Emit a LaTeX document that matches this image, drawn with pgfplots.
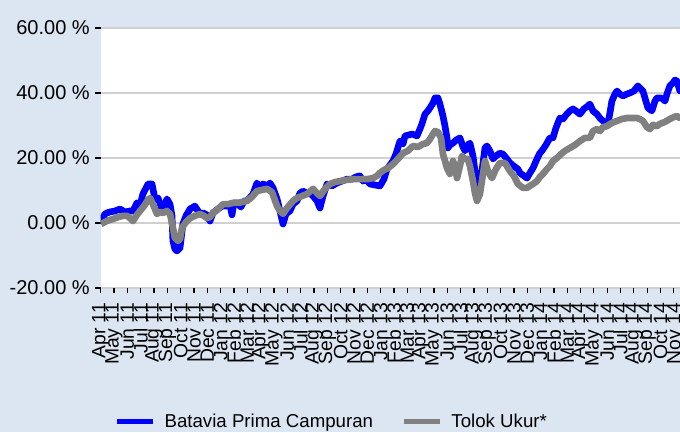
\documentclass[border=0pt]{standalone}
\usepackage{pgfplots}
\pgfplotsset{compat=1.18}
\usepackage{fontspec}
\setmainfont{Liberation Sans}
\definecolor{bgblue}{RGB}{220,230,242}
\definecolor{gridgray}{RGB}{208,208,208}
\definecolor{lineblue}{RGB}{0,0,255}
\definecolor{linegray}{RGB}{128,128,128}

\begin{document}
\begin{tikzpicture}
\path[use as bounding box] (0,0) rectangle (510pt,324pt);
\fill[bgblue] (0,0) rectangle (510pt,324pt);
\clip (0,0) rectangle (510pt,324pt);
\begin{axis}[
  scale only axis, width=439.9pt, height=195pt,
  at={(75.5pt,108pt)}, anchor=south west,
  xmin=0, xmax=44, ymin=-20, ymax=60,
  axis background/.style={fill=white},
  axis line style={draw=none},
  ymajorgrids, grid style={gridgray, line width=1.5pt},
  ytick={-20,0,20,40,60},
  yticklabels={-20.00 \%,0.00 \%,20.00 \%,40.00 \%,60.00 \%},
  xtick={0,...,43},
  xticklabels={Apr 11,May 11,Jun 11,Jul 11,Aug 11,Sep 11,Oct 11,Nov 11,Dec 11,Jan 12,Feb 12,Mar 12,Apr 12,May 12,Jun 12,Jul 12,Aug 12,Sep 12,Oct 12,Nov 12,Dec 12,Jan 13,Feb 13,Mar 13,Apr 13,May 13,Jun 13,Jul 13,Aug 13,Sep 13,Oct 13,Nov 13,Dec 13,Jan 14,Feb 14,Mar 14,Apr 14,May 14,Jun 14,Jul 14,Aug 14,Sep 14,Oct 14,Nov 14},
  tick pos=left, tick align=outside,
  major tick length=4pt,
  major tick style={black, line width=0.9pt},
  y tick label style={font=\fontsize{15}{17}\selectfont, anchor=east, inner sep=0pt, xshift=-4pt},
  x tick label style={font=\fontsize{14.5}{16}\selectfont, inner sep=0pt, yshift=-7pt, rotate=90, anchor=east},
  legend columns=2,
  legend style={at={(axis description cs:0.0227,-0.515)}, anchor=west, draw=none, fill=none,
    font=\fontsize{14}{16}\selectfont, inner sep=0pt, nodes={inner sep=0pt},
    /tikz/every odd column/.append style={column sep=7pt},
    /tikz/every even column/.append style={column sep=21pt}},
  legend image code/.code={\draw[#1, line width=3.75pt, line cap=butt] (0pt,0pt) -- (27pt,0pt);},
  line join=round,
]
\addplot[lineblue, line width=5pt] coordinates {
(0.02,0.0) (0.32,2.8) (0.47,3.1) (0.70,3.4) (1.07,3.7) (1.45,4.3) (1.82,3.4) (2.20,3.7) (2.42,3.7) (2.72,6.2)
(2.95,5.5) (3.17,8.9) (3.55,12.0) (3.85,12.0) (4.07,7.4) (4.30,7.7) (4.52,5.2) (4.67,3.7) (4.97,7.4) (5.20,5.8)
(5.35,2.2) (5.42,-5.5) (5.57,-8.0) (5.72,-8.6) (5.95,-7.7) (6.17,-0.3) (6.40,2.2) (6.70,4.3) (7.07,5.2) (7.45,2.8)
(7.67,3.1) (7.97,2.5) (8.20,0.6) (8.42,3.1) (8.80,4.3) (9.10,5.2) (9.47,5.2) (9.70,5.8) (9.85,2.5) (10.00,6.2)
(10.23,6.2) (10.52,4.9) (10.75,6.8) (10.97,6.8) (11.43,8.9) (11.72,12.3) (11.95,11.1) (12.18,12.0) (12.48,11.4) (12.70,12.3)
(12.93,10.8) (13.23,7.4) (13.45,3.7) (13.68,-0.3) (13.90,2.8) (14.20,3.7) (14.43,5.8) (14.73,6.8) (14.95,9.2) (15.18,9.8)
(15.48,9.2) (15.70,9.2) (15.93,8.3) (16.23,6.8) (16.45,4.6) (16.68,8.3) (16.98,12.0) (17.35,11.4) (17.73,12.3) (18.10,12.9)
(18.48,13.5) (18.85,13.5) (19.15,14.2) (19.45,14.5) (19.68,12.9) (19.90,13.5) (20.20,12.0) (20.58,11.7) (20.95,11.4) (21.25,13.5)
(21.48,16.6) (21.70,17.8) (21.93,19.1) (22.15,21.2) (22.45,25.2) (22.68,24.3) (22.83,26.8) (23.13,27.1) (23.35,27.4) (23.73,26.8)
(23.95,28.9) (24.10,30.5) (24.33,33.5) (24.55,34.5) (24.70,35.4) (24.93,36.9) (25.08,38.5) (25.30,38.5) (25.45,36.6) (25.68,32.9)
(25.83,29.8) (25.98,26.2) (26.05,23.1) (26.20,24.0) (26.43,24.6) (26.65,25.5) (26.95,26.2) (27.18,23.4) (27.33,22.2) (27.55,24.0)
(27.70,24.6) (27.93,20.6) (28.08,16.0) (28.30,10.8) (28.45,12.9) (28.60,16.0) (28.83,23.1) (28.98,23.7) (29.20,22.2) (29.43,19.7)
(29.65,20.6) (29.95,21.5) (30.18,21.2) (30.48,19.7) (30.70,18.5) (31.00,17.5) (31.30,16.6) (31.45,15.4) (31.75,14.5) (31.98,13.8)
(32.20,15.4) (32.43,16.9) (32.73,19.7) (32.95,21.5) (33.10,22.2) (33.40,24.0) (33.70,26.2) (33.93,26.2) (34.15,29.2) (34.45,32.3)
(34.68,32.0) (34.90,33.2) (35.20,34.5) (35.43,35.1) (35.65,34.5) (35.95,33.5) (36.25,35.1) (36.55,36.0) (36.70,36.6) (36.93,34.5)
(37.23,33.5) (37.45,32.3) (37.68,31.4) (37.90,30.5) (38.05,30.5) (38.20,33.8) (38.35,37.5) (38.58,39.7) (38.73,40.6) (38.95,39.7)
(39.18,39.1) (39.48,39.7) (39.70,40.0) (40.00,40.6) (40.30,42.2) (40.53,41.2) (40.68,40.6) (40.90,37.5) (41.05,35.4) (41.35,34.5)
(41.58,37.5) (41.73,38.5) (41.95,38.5) (42.18,38.2) (42.33,37.5) (42.48,39.7) (42.70,42.2) (42.93,43.1) (43.08,44.0) (43.23,43.7)
(43.30,42.8) (43.45,40.6) (43.67,41.2)
};
\addlegendentry{Batavia Prima Campuran}
\addplot[linegray, line width=5pt] coordinates {
(0.02,-0.3) (0.32,0.3) (0.62,0.9) (0.92,1.2) (1.30,1.8) (1.67,2.2) (1.97,2.2) (2.20,1.5) (2.42,0.6) (2.72,2.5)
(2.95,3.7) (3.25,5.2) (3.55,7.1) (3.70,7.7) (3.92,5.8) (4.07,4.3) (4.22,2.8) (4.45,3.4) (4.67,3.1) (4.97,3.7)
(5.20,2.8) (5.35,0.0) (5.57,-4.6) (5.80,-5.5) (5.95,-4.9) (6.10,-1.5) (6.40,0.3) (6.70,1.5) (7.07,2.2) (7.45,2.8)
(7.75,2.2) (7.97,1.5) (8.20,1.8) (8.42,3.1) (8.80,4.3) (9.17,5.8) (9.55,5.8) (9.92,6.2) (10.30,6.2) (10.67,6.5)
(10.97,6.8) (11.35,8.0) (11.72,9.8) (12.10,10.2) (12.48,10.5) (12.85,9.5) (13.23,5.2) (13.45,3.7) (13.68,2.8) (13.98,4.6)
(14.43,6.8) (14.73,7.7) (15.10,8.3) (15.48,8.9) (15.93,10.5) (16.30,8.9) (16.45,8.3) (16.83,10.5) (17.20,12.0) (17.58,12.6)
(17.95,12.9) (18.33,13.2) (18.93,13.5) (19.45,13.5) (19.98,13.5) (20.43,13.8) (20.73,14.5) (20.95,15.4) (21.25,16.3) (21.55,16.9)
(21.93,18.1) (22.30,19.7) (22.68,21.5) (23.05,22.2) (23.43,23.7) (23.80,23.4) (24.18,24.3) (24.48,24.6) (24.70,25.8) (24.93,27.4)
(25.08,28.3) (25.30,28.0) (25.53,26.2) (25.68,21.2) (25.83,19.1) (25.98,16.9) (26.20,15.1) (26.43,19.1) (26.58,17.5) (26.73,13.8)
(26.95,17.5) (27.10,20.6) (27.33,19.7) (27.55,19.7) (27.70,17.5) (27.93,12.9) (28.08,9.2) (28.23,6.8) (28.45,8.9) (28.60,12.9)
(28.83,19.1) (29.05,16.0) (29.35,13.8) (29.65,16.6) (29.95,18.5) (30.33,18.5) (30.70,16.0) (31.00,14.5) (31.30,12.0) (31.68,10.8)
(31.98,10.8) (32.20,11.4) (32.43,12.0) (32.73,12.9) (32.95,14.2) (33.18,15.1) (33.48,16.6) (33.70,17.5) (33.93,19.1) (34.23,20.0)
(34.53,21.2) (34.83,22.2) (35.20,23.1) (35.58,24.0) (35.95,25.2) (36.33,26.2) (36.70,26.2) (36.93,28.3) (37.23,28.9) (37.45,28.3)
(37.68,29.5) (37.98,29.8) (38.35,30.8) (38.73,31.4) (39.10,32.0) (39.48,32.3) (39.85,32.3) (40.23,32.3) (40.45,32.0) (40.68,31.4)
(40.98,29.5) (41.20,28.9) (41.43,30.2) (41.73,29.8) (41.95,30.5) (42.33,31.1) (42.70,32.0) (43.00,32.6) (43.23,32.9) (43.45,32.3)
(43.67,32.6)
};
\addlegendentry{Tolok Ukur*}
\end{axis}
\end{tikzpicture}
\end{document}
